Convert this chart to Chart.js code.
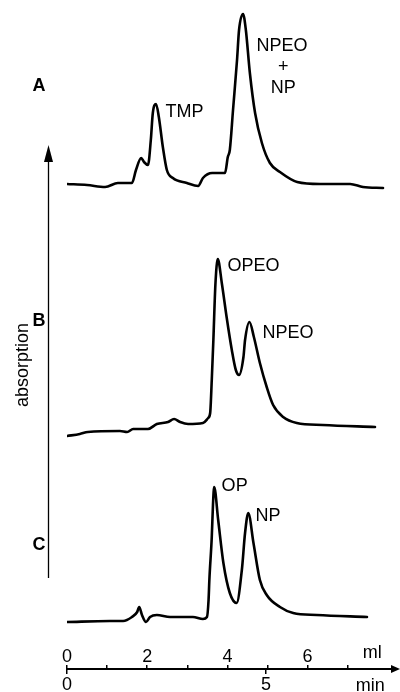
<!DOCTYPE html>
<html>
<head>
<meta charset="utf-8">
<script src="https://cdn.jsdelivr.net/npm/chart.js@4"></script>
<style>
html,body{margin:0;padding:0;background:#fff;}
#wrap{width:400px;height:692px;position:relative;}
</style>
</head>
<body>
<div id="wrap"><canvas id="c" width="400" height="692"></canvas></div>
<script>
// ---------- data (elution volume in ml, absorption in arbitrary units) ----------
const volA = [0.00,0.50,0.95,1.27,1.62,1.72,1.85,1.92,2.02,2.09,2.14,2.22,2.29,2.39,2.49,2.64,2.99,3.27,3.39,3.62,3.94,4.01,4.06,4.14,4.24,4.29,4.39,4.46,4.56,4.69,4.86,5.06,5.31,5.74,6.31,7.06,7.38,7.88];
const absA = [8,7,5,9,9,22,34,30,27,52,79,88,75,45,22,14,9,6,14,19,19,35,42,82,132,162,178,162,119,79,49,29,20,10,8,8,5,4];

const volB = [0.00,0.32,0.52,1.32,1.50,1.65,2.02,2.24,2.52,2.67,2.82,3.02,3.39,3.52,3.57,3.61,3.65,3.70,3.76,3.86,3.98,4.11,4.21,4.29,4.40,4.44,4.55,4.66,4.81,4.98,5.14,5.39,5.73,6.38,7.68];
const absB = [4,6,8,9,8,11,11,16,18,21,18,16,17,22,27,60,100,155,181,157,123,90,70,65,83,100,118,103,77,53,35,23,17,15,13];

const volC = [0.00,1.07,1.40,1.62,1.75,1.80,1.87,1.97,2.07,2.24,2.57,3.14,3.39,3.49,3.53,3.55,3.61,3.64,3.67,3.77,3.90,4.06,4.23,4.36,4.44,4.52,4.65,4.81,4.98,5.31,5.64,6.23,7.48];
const absC = [3,4,4,8,13,18,10,3,8,10,8,8,6,8,25,45,88,120,138,105,62,32,22,55,92,112,82,45,30,18,12,10,8];

// vertical stacking offsets of the three chromatograms
const traceOffsets = [500, 252, 67];
const panelNames = ['A', 'B', 'C'];

// axis ticks
const mlTicks = [0,1,2,3,4,5,6,7];
const mlTickLabels = ['0','','2','','4','','6',''];
const minTicks = [0,5];
const minTickLabels = ['0','5'];

// peak annotations: text, ml, absorption level (chart units)
const peakTexts = ['TMP','NPEO','+','NP','OPEO','NPEO','OP','NP'];
const peakX =     [2.93, 5.36, 5.39, 5.39, 4.65, 5.51, 4.18, 5.01];
const peakY =     [580, 646, 624.5, 603.5, 426, 358.5, 206, 175.5];
const panelX = [-0.70, -0.70, -0.70];
const panelY = [606, 371, 147];

// ---------- chart ----------
Chart.defaults.font.family = '"Liberation Sans", Arial, Helvetica, sans-serif';
Chart.defaults.font.size = 18;
Chart.defaults.color = '#000';

const AXIS_Y = 23;          // level of the time/volume axis
const X_MAX_ML = 8.204;
const X_MAX_MIN = 8.266;

function mkData(vol, ab, off){ return vol.map((v,i)=>({x:v, y:ab[i]+off})); }

const traces = [[volA,absA],[volB,absB],[volC,absC]];
const datasets = traces.map((t,k)=>({
  label: panelNames[k],
  data: mkData(t[0], t[1], traceOffsets[k]),
  borderColor: '#000',
  borderWidth: 2.6,
  pointRadius: 0,
  fill: false,
  cubicInterpolationMode: 'monotone',
  borderJoinStyle: 'round',
  borderCapStyle: 'round'
}));

const decor = {
  id: 'decor',
  afterDraw(chart){
    const {ctx, scales} = chart;
    const x = scales.x, y = scales.y, ca = chart.chartArea;
    ctx.save();
    ctx.fillStyle = '#000';
    ctx.strokeStyle = '#000';
    ctx.textAlign = 'center';
    ctx.textBaseline = 'middle';
    // panel letters
    ctx.font = 'bold 18px "Liberation Sans", Arial, sans-serif';
    panelNames.forEach((t,i)=>ctx.fillText(t, x.getPixelForValue(panelX[i]), y.getPixelForValue(panelY[i])));
    // peak labels
    ctx.font = '18px "Liberation Sans", Arial, sans-serif';
    peakTexts.forEach((t,i)=>ctx.fillText(t, x.getPixelForValue(peakX[i]), y.getPixelForValue(peakY[i])));
    // unit labels
    ctx.textBaseline = 'alphabetic';
    ctx.fillText('ml', x.getPixelForValue(7.61), y.getPixelForValue(34));
    ctx.fillText('min', x.getPixelForValue(7.56), y.getPixelForValue(1));
    // x axis arrowhead
    const ay = y.getPixelForValue(AXIS_Y);
    ctx.beginPath();
    ctx.moveTo(ca.right - 5, ay - 4);
    ctx.lineTo(ca.right + 4, ay);
    ctx.lineTo(ca.right - 5, ay + 4);
    ctx.closePath();
    ctx.fill();
    // absorption arrow
    const vx = Math.round(x.getPixelForValue(-0.47)) + 0.5;
    const yb = y.getPixelForValue(114), yt = y.getPixelForValue(547);
    ctx.lineWidth = 1.3;
    ctx.beginPath();
    ctx.moveTo(vx, yb);
    ctx.lineTo(vx, yt + 14);
    ctx.stroke();
    ctx.beginPath();
    ctx.moveTo(vx, yt);
    ctx.lineTo(vx - 4.5, yt + 17);
    ctx.lineTo(vx + 4.5, yt + 17);
    ctx.closePath();
    ctx.fill();
    // absorption title
    ctx.translate(23, y.getPixelForValue(327));
    ctx.rotate(-Math.PI/2);
    ctx.textAlign = 'center';
    ctx.textBaseline = 'middle';
    ctx.font = '18px "Liberation Sans", Arial, sans-serif';
    ctx.fillText('absorption', 0, 0);
    ctx.restore();
  }
};

new Chart(document.getElementById('c'), {
  type: 'line',
  data: { datasets },
  options: {
    responsive: false,
    animation: false,
    layout: { padding: { left: 67, right: 4, top: 0, bottom: 0 } },
    plugins: { legend: { display: false }, tooltip: { enabled: false } },
    scales: {
      y: { type: 'linear', display: false, min: 0, max: 692 },
      x: {
        type: 'linear',
        position: { y: AXIS_Y },
        min: 0, max: X_MAX_ML,
        afterBuildTicks: s => { s.ticks = mlTicks.map(v => ({ value: v })); },
        ticks: {
          autoSkip: false, maxRotation: 0, minRotation: 0,
          padding: -18,
          callback: v => { const i = mlTicks.indexOf(v); return i >= 0 ? mlTickLabels[i] : ''; }
        },
        grid: { drawOnChartArea: false, drawTicks: true, tickLength: -5, color: '#000', lineWidth: 1.5 },
        border: { display: true, color: '#000', width: 2 }
      },
      xmin: {
        type: 'linear',
        axis: 'x',
        position: { y: AXIS_Y },
        min: 0, max: X_MAX_MIN,
        afterBuildTicks: s => { s.ticks = minTicks.map(v => ({ value: v })); },
        ticks: {
          autoSkip: false, maxRotation: 0, minRotation: 0,
          padding: 0,
          callback: v => { const i = minTicks.indexOf(v); return i >= 0 ? minTickLabels[i] : ''; }
        },
        grid: { drawOnChartArea: false, drawTicks: true, tickLength: 5, color: '#000', lineWidth: 1.5 },
        border: { display: false }
      }
    }
  },
  plugins: [decor]
});
</script>
</body>
</html>
